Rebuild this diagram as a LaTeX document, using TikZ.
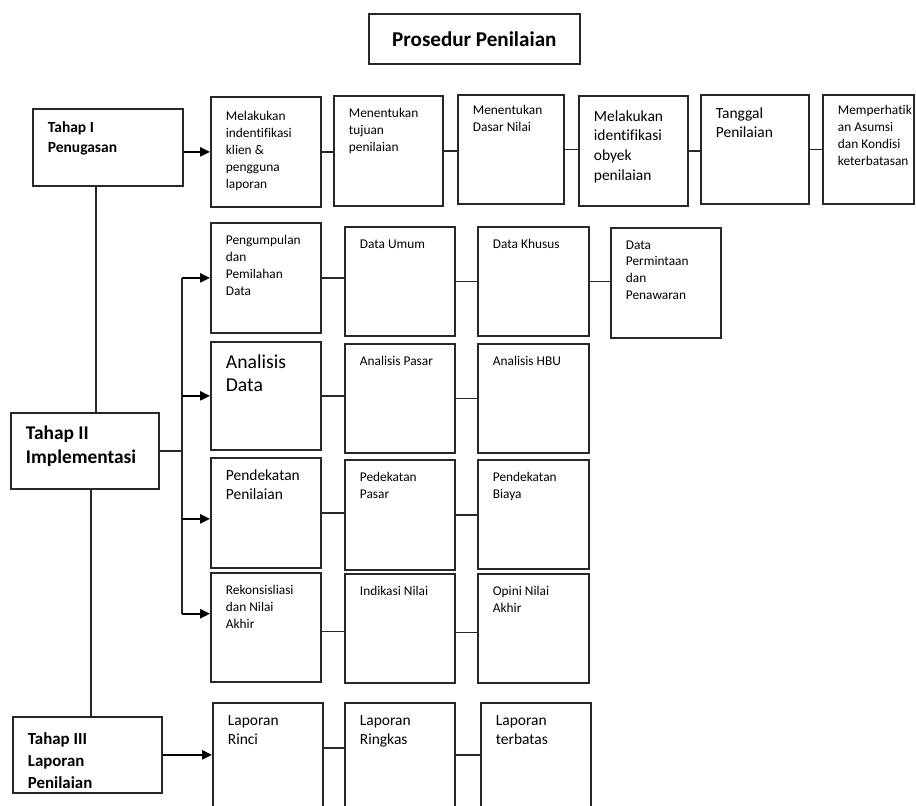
\documentclass[tikz,border=0pt]{standalone}
\usepackage{fontspec}
\setmainfont{Carlito}[Ligatures=NoCommon]
\usetikzlibrary{arrows.meta}
\definecolor{garis}{RGB}{40,40,40}

\begin{document}
\begin{tikzpicture}[x=0.025cm, y=-0.025cm]
 \tikzstyle{kotak}=[draw=garis, line width=1.15pt, anchor=north west, inner sep=0pt, minimum width=2.75cm, minimum height=2.75cm]
 \tikzstyle{isi}=[anchor=north west, inner sep=0pt, align=left, xshift=0.39cm, yshift=-0.33cm, text=black]
 \tikzstyle{kecil}=[isi, font=\fontsize{9.5}{12}\selectfont]
 \tikzstyle{sedang}=[isi, font=\fontsize{11}{14}\selectfont]
 \tikzstyle{besar}=[isi, font=\fontsize{14}{16.5}\selectfont]
 \tikzstyle{sambung}=[draw=garis, line width=1.1pt]
 \tikzstyle{panah}=[->, >={Triangle[length=7pt, width=6.5pt]}, line width=1.3pt, black]
 %
 \useasboundingbox (0,0) rectangle (916,805);
 \clip (0,0) rectangle (916,805);
 %
 \node[kotak, minimum width=5.275cm, minimum height=1.25cm, font=\bfseries\fontsize{15}{18}\selectfont] (judul) at (368,13) {Prosedur Penilaian};
 %
 \node[kotak, minimum width=3.75cm, minimum height=1.925cm, label={[isi, font=\bfseries\fontsize{11}{14}\selectfont]north west:{Tahap I\\Penugasan}}] (t1) at (32,108) {};
 \node[kotak, minimum width=3.7cm, minimum height=1.9cm, label={[isi, font=\bfseries\fontsize{13.8}{17}\selectfont]north west:{Tahap II\\Implementasi}}] (t2) at (10,412) {};
 \node[kotak, minimum width=3.725cm, minimum height=1.9cm, label={[isi, yshift=-0.07cm, font=\bfseries\fontsize{12}{15.6}\selectfont]north west:{Tahap III\\Laporan\\Penilaian}}] (t3) at (12,716) {};
 %
 \node[kotak, label={[kecil, yshift=-0.05cm]north west:{Melakukan\\indentifikasi\\klien \&\\pengguna\\laporan}}] (b1) at (210,96) {};
 \node[kotak, minimum width=2.725cm, label={[kecil]north west:{Menentukan\\tujuan\\penilaian}}] (b2) at (333,95) {};
 \node[kotak, minimum width=2.65cm, minimum height=2.725cm, label={[kecil, yshift=0.05cm]north west:{Menentukan\\Dasar Nilai}}] (b3) at (457,94) {};
 \node[kotak, minimum width=2.725cm, label={[sedang, yshift=-0.05cm]north west:{Melakukan\\identifikasi\\obyek\\penilaian}}] (b4) at (578,95) {};
 \node[kotak, minimum width=2.7cm, minimum height=2.725cm, label={[sedang]north west:{Tanggal\\Penilaian}}] (b5) at (700,94) {};
 \node[kotak, minimum width=2.275cm, minimum height=2.725cm, label={[kecil, yshift=0.05cm]north west:{Memperhatik\\an Asumsi\\dan Kondisi\\keterbatasan}}] (b6) at (822,94) {};
 %
 \node[kotak, label={[kecil]north west:{Pengumpulan\\dan\\Pemilahan\\Data}}] (p1) at (210,222) {};
 \node[kotak, minimum height=2.7cm, label={[besar]north west:{Analisis\\Data}}] (p2) at (210,341) {};
 \node[kotak, label={[sedang, yshift=0.03cm]north west:{Pendekatan\\Penilaian}}] (p3) at (210,457) {};
 \node[kotak, minimum height=2.725cm, label={[kecil]north west:{Rekonsisliasi\\dan Nilai\\Akhir}}] (p4) at (210,572) {};
 %
 \node[kotak, minimum height=2.725cm, label={[kecil]north west:{Data Umum}}] (u1) at (344,226) {};
 \node[kotak, minimum height=2.725cm, label={[kecil]north west:{Analisis Pasar}}] (u2) at (344,343) {};
 \node[kotak, label={[kecil]north west:{Pedekatan\\Pasar}}] (u3) at (344,459) {};
 \node[kotak, minimum height=2.725cm, label={[kecil]north west:{Indikasi Nilai}}] (u4) at (344,573) {};
 %
 \node[kotak, minimum width=2.775cm, minimum height=2.725cm, label={[kecil]north west:{Data Khusus}}] (k1) at (477,226) {};
 \node[kotak, minimum width=2.775cm, minimum height=2.725cm, label={[kecil]north west:{Analisis HBU}}] (k2) at (477,343) {};
 \node[kotak, minimum width=2.775cm, minimum height=2.725cm, label={[kecil]north west:{Pendekatan\\Biaya}}] (k3) at (477,459) {};
 \node[kotak, minimum width=2.775cm, minimum height=2.725cm, label={[kecil]north west:{Opini Nilai\\Akhir}}] (k4) at (477,573) {};
 %
 \node[kotak, label={[kecil]north west:{Data\\Permintaan\\dan\\Penawaran}}] (d1) at (610,227) {};
 %
 \node[kotak, minimum height=3cm, label={[isi, font=\fontsize{11}{13.5}\selectfont]north west:{Laporan\\Rinci}}] (l1) at (212,702) {};
 \node[kotak, minimum height=3cm, label={[isi, font=\fontsize{11}{13.5}\selectfont]north west:{Laporan\\Ringkas}}] (l2) at (344,702) {};
 \node[kotak, minimum height=3cm, label={[isi, font=\fontsize{11}{13.5}\selectfont]north west:{Laporan\\terbatas}}] (l3) at (480,702) {};
 %
 \coordinate (cab) at (182,450);
 %% tahap
 \draw[sambung] ([xshift=-0.3cm]t1.south) -- ([xshift=-0.3cm]t1.south |- t2.north);
 \draw[sambung] ([xshift=0.15cm]t2.south) -- ([xshift=0.15cm]t2.south |- t3.north);
 \draw[panah] (t1.east |- b1.west) -- (b1.west);
 \draw[panah] (t3.east) -- (t3.east -| l1.west);
 \draw[sambung] (t2.east) -- (t2.east -| cab);
 \draw[sambung] (cab |- p1.west) -- ([yshift=0.34cm]cab |- p4.west);
 \draw[panah] (cab |- p1.west) -- (p1.west);
 \draw[panah] (cab |- p2.west) -- (p2.west);
 \draw[panah] ([yshift=-0.15cm]cab |- p3.west) -- ([yshift=-0.15cm]p3.west);
 \draw[panah] ([yshift=0.34cm]cab |- p4.west) -- ([yshift=0.34cm]p4.west);
 %% baris
 \draw[sambung] (b1.east) -- (b1.east -| b2.west);
 \draw[sambung] (b2.east) -- (b2.east -| b3.west);
 \draw[sambung] (b3.east) -- (b3.east -| b4.west);
 \draw[sambung] (b4.east) -- (b4.east -| b5.west);
 \draw[sambung] (b5.east) -- (b5.east -| b6.west);
 \draw[sambung] (p1.east) -- (p1.east -| u1.west);
 \draw[sambung] (u1.east) -- (u1.east -| k1.west);
 \draw[sambung] (k1.east) -- (k1.east -| d1.west);
 \draw[sambung] (p2.east) -- (p2.east -| u2.west);
 \draw[sambung] (u2.east) -- (u2.east -| k2.west);
 \draw[sambung] (p3.east) -- (p3.east -| u3.west);
 \draw[sambung] (u3.east) -- (u3.east -| k3.west);
 \draw[sambung] ([yshift=-0.1cm]p4.east) -- ([yshift=-0.1cm]p4.east -| u4.west);
 \draw[sambung] ([yshift=-0.1cm]u4.east) -- ([yshift=-0.1cm]u4.east -| k4.west);
 \draw[sambung] ([yshift=0.375cm]l1.east) -- ([yshift=0.375cm]l1.east -| l2.west);
 \draw[sambung] ([yshift=0.2cm]l2.east) -- ([yshift=0.2cm]l2.east -| l3.west);
\end{tikzpicture}
\end{document}
